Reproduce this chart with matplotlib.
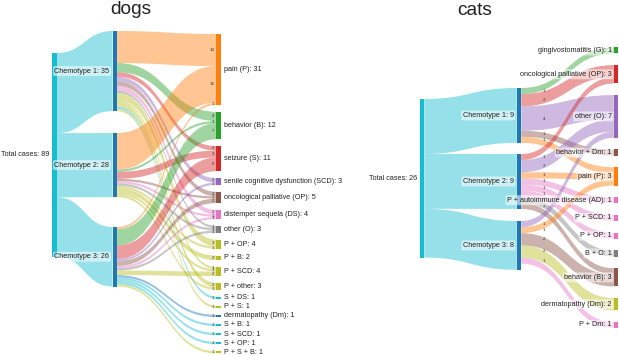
import numpy as np
import matplotlib.pyplot as plt
from matplotlib.path import Path
from matplotlib.patches import PathPatch, Rectangle

plt.rcParams['font.family'] = ['Liberation Sans', 'DejaVu Sans']

# colours (plotly default palette)
BLUE, ORANGE, GREEN, RED = '#1f77b4', '#ff7f0e', '#2ca02c', '#d62728'
PURPLE, BROWN, PINK, GREY = '#9467bd', '#8c564b', '#e377c2', '#7f7f7f'
OLIVE, CYAN = '#bcbd22', '#17becf'

chemotypes = ['Chemotype 1', 'Chemotype 2', 'Chemotype 3']

# ---- dogs ----
dog_total = 89
dog_chemo_n = [35, 28, 26]
dog_targets = ['pain (P)', 'behavior (B)', 'seizure (S)',
               'senile cognitive dysfunction (SCD)', 'oncological palliative (OP)',
               'distemper sequela (DS)', 'other (O)', 'P + OP', 'P + B', 'P + SCD',
               'P + other', 'S + DS', 'P + S', 'dermatopathy (Dm)', 'S + B',
               'S + SCD', 'S + OP', 'P + S + B']
dog_colors = [ORANGE, GREEN, RED, PURPLE, BROWN, PINK, GREY, OLIVE, OLIVE, OLIVE,
              OLIVE, CYAN, OLIVE, BLUE, CYAN, CYAN, CYAN, OLIVE]
dog_c1 = [14, 4, 2, 2, 2, 2, 1, 3, 0, 1, 2, 1, 1, 0, 0, 0, 0, 0]
dog_c2 = [16, 1, 3, 0, 1, 1, 1, 1, 2, 1, 1, 0, 0, 0, 0, 0, 0, 0]
dog_c3 = [1, 7, 6, 1, 2, 1, 1, 0, 0, 2, 0, 0, 0, 1, 1, 1, 1, 1]

# ---- cats ----
cat_total = 26
cat_chemo_n = [9, 9, 8]
cat_targets = ['gingivostomatitis (G)', 'oncological palliative (OP)', 'other (O)',
               'behavior + Dm', 'pain (P)', 'P + autoimmune disease (AD)', 'P + SCD',
               'P + OP', 'B + O', 'behavior (B)', 'dermatopathy (Dm)', 'P + Dm']
cat_colors = [GREEN, RED, PURPLE, BROWN, ORANGE, PINK, PINK, PINK, GREY, BROWN,
              OLIVE, PINK]
cat_c1 = [1, 2, 4, 1, 1, 0, 0, 0, 0, 0, 0, 0]
cat_c2 = [0, 1, 2, 0, 1, 1, 1, 1, 1, 1, 0, 0]
cat_c3 = [0, 0, 1, 0, 1, 0, 0, 0, 0, 2, 2, 1]

LINK_ALPHA = 0.45
FS = 5.2


def band(ax, x0, y0a, y0b, x1, y1a, y1b, color):
    xm = (x0 + x1) / 2
    verts = [(x0, y0a), (xm, y0a), (xm, y1a), (x1, y1a),
             (x1, y1b), (xm, y1b), (xm, y0b), (x0, y0b), (x0, y0a)]
    codes = [Path.MOVETO, Path.CURVE4, Path.CURVE4, Path.CURVE4,
             Path.LINETO, Path.CURVE4, Path.CURVE4, Path.CURVE4, Path.CLOSEPOLY]
    ax.add_patch(PathPatch(Path(verts, codes), fc=color, ec='none',
                           alpha=LINK_ALPHA, zorder=1))


def node(ax, x, y, h, w, color):
    ax.add_patch(Rectangle((x, y), w, h, fc=color, ec='none', zorder=3))


def label(ax, x, y, s, ha, box=True):
    kw = {}
    if box:
        kw['bbox'] = dict(boxstyle='round,pad=0.2', fc='white', ec='none', alpha=0.55)
    ax.text(x, y, s, ha=ha, va='center', fontsize=FS, color='#222222', zorder=5, **kw)


def sankey(ax, total, chemo_n, mat, targets, colors, L):
    k = L['scale']
    w = L['w']
    xs = L['x']
    # total -> chemotype
    top_total = L['total_top']
    node(ax, xs[0], top_total, total * k, w, CYAN)
    label(ax, xs[0] - 3, top_total + total * k / 2, 'Total cases: %d' % total, 'right', box=False)
    off = top_total
    chem_out = [sum(r) for r in mat]
    for i, n in enumerate(chemo_n):
        ct = L['chem_tops'][i]
        band(ax, xs[0] + w, off, off + n * k, xs[1], ct, ct + n * k, CYAN)
        off += n * k
        h = max(n, chem_out[i]) * k
        node(ax, xs[1], ct, h, w, BLUE)
        label(ax, xs[1] - 3, ct + h / 2, '%s: %d' % (chemotypes[i], max(n, chem_out[i])), 'right')
    # target nodes
    tv = [sum(col) for col in zip(*mat)]
    tops = []
    y = L['target_top']
    for v in tv:
        tops.append(y)
        y += v * k + L['gap']
    for j, v in enumerate(tv):
        node(ax, xs[2], tops[j], v * k, w, colors[j])
        if L['side'] == 'right':
            label(ax, xs[2] + w + 3, tops[j] + v * k / 2, '%s: %d' % (targets[j], v), 'left', box=False)
        else:
            label(ax, xs[2] - 2, tops[j] + v * k / 2, '%s: %d' % (targets[j], v), 'right')
    # chemotype -> target links
    src_off = list(L['chem_tops'])
    tgt_off = list(tops)
    for i, row in enumerate(mat):
        for j, v in enumerate(row):
            if v == 0:
                continue
            s0, t0 = src_off[i], tgt_off[j]
            band(ax, xs[1] + w, s0, s0 + v * k, xs[2], t0, t0 + v * k, colors[j])
            if L['link_label'] == 'target':
                lx, ly, ha = xs[2] - 2, t0 + v * k / 2, 'right'
            else:
                lx, ly, ha = xs[1] + w + 23, s0 + v * k / 2, 'center'
            ax.text(lx, ly, str(v), fontsize=3.2, ha=ha, va='center', color='#333333', zorder=4)
            src_off[i] += v * k
            tgt_off[j] += v * k


fig = plt.figure(figsize=(6.19, 3.56), dpi=100)
ax = fig.add_axes([0, 0, 1, 1])
ax.set_xlim(0, 619)
ax.set_ylim(356, 0)
ax.axis('off')

dog_layout = dict(scale=2.29, w=4.6, x=[52, 112.5, 216.2], total_top=53,
                  chem_tops=[31, 133, 227], target_top=34, gap=6.8,
                  side='right', link_label='target')
cat_layout = dict(scale=6.1, w=4.4, x=[419.8, 516.8, 613.8], total_top=99,
                  chem_tops=[88, 154, 221], target_top=47.4, gap=11.65,
                  side='left', link_label='source')

sankey(ax, dog_total, dog_chemo_n, [dog_c1, dog_c2, dog_c3], dog_targets, dog_colors, dog_layout)
sankey(ax, cat_total, cat_chemo_n, [cat_c1, cat_c2, cat_c3], cat_targets, cat_colors, cat_layout)

ax.text(131, 14.5, 'dogs', fontsize=13.8, ha='center', va='baseline', color='#222222')
ax.text(475, 15, 'cats', fontsize=13.8, ha='center', va='baseline', color='#222222')

fig.savefig('out.png', dpi=100)
